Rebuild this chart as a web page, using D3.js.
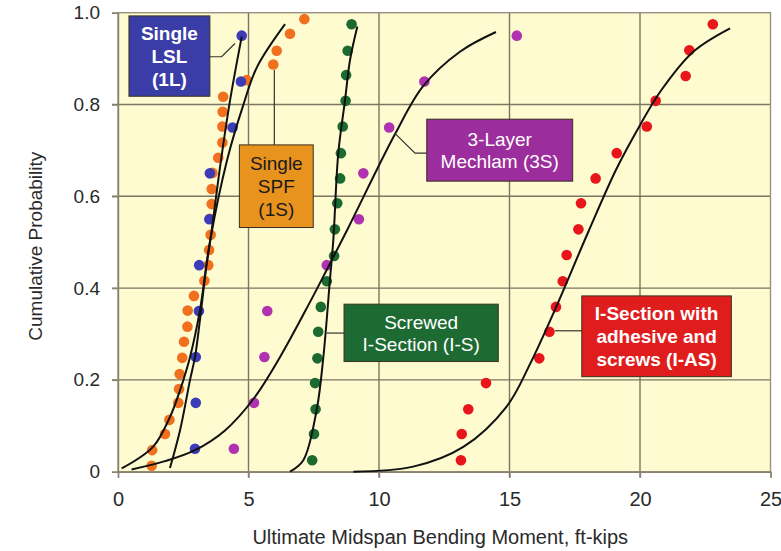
<!DOCTYPE html>
<html>
<head>
<meta charset="utf-8">
<script src="https://cdn.jsdelivr.net/npm/d3@7"></script>
<style>
  html, body { margin: 0; padding: 0; background: #ffffff; }
  svg { display: block; font-family: "Liberation Sans", Arial, sans-serif; }
</style>
</head>
<body>
<svg id="chart" width="781" height="551"></svg>
<script>
// ---------- DATA ----------
const xTicks = [0, 5, 10, 15, 20, 25];
const xTickLabels = ["0", "5", "10", "15", "20", "25"];
const yTicks = [0, 0.2, 0.4, 0.6, 0.8, 1.0];
const yTickLabels = ["0", "0.2", "0.4", "0.6", "0.8", "1.0"];
const xTitle = "Ultimate Midspan Bending Moment, ft-kips";
const yTitle = "Cumulative Probability";

// Single SPF (1S) - orange
const s1S_x = [1.29, 1.31, 1.80, 1.97, 2.31, 2.34, 2.36, 2.46, 2.53, 2.66, 2.67, 2.91, 3.31, 3.46, 3.49,
               3.55, 3.52, 3.59, 3.59, 3.62, 3.84, 4.00, 4.00, 4.01, 4.03, 4.93, 5.95, 6.08, 6.59, 7.14];
const s1S_p = [0.013, 0.047, 0.082, 0.113, 0.150, 0.180, 0.213, 0.248, 0.283, 0.316, 0.351, 0.383, 0.416, 0.450, 0.483,
               0.516, 0.551, 0.583, 0.616, 0.651, 0.684, 0.717, 0.752, 0.784, 0.817, 0.853, 0.887, 0.917, 0.954, 0.986];
const s1S_curveX = [0.14, 1.34, 1.99, 2.38, 2.76, 3.14, 3.52, 4.18, 4.79, 5.33, 6.40];
const s1S_curveP = [0.007, 0.054, 0.119, 0.178, 0.250, 0.352, 0.500, 0.679, 0.797, 0.882, 0.975];

// Single LSL (1L) - blue
const s1L_x = [2.95, 2.98, 2.98, 3.10, 3.11, 3.50, 3.52, 4.39, 4.71, 4.74];
const s1L_p = [0.05, 0.15, 0.25, 0.35, 0.45, 0.55, 0.65, 0.75, 0.85, 0.95];
const s1L_curveX = [1.99, 2.38, 2.76, 2.95, 3.14, 3.37, 3.59, 3.91, 4.29, 4.74];
const s1L_curveP = [0.008, 0.091, 0.200, 0.250, 0.331, 0.440, 0.526, 0.664, 0.808, 0.948];

// 3-Layer Mechlam (3S) - purple
const s3S_x = [4.44, 5.21, 5.61, 5.72, 8.00, 9.23, 9.40, 10.39, 11.74, 15.28];
const s3S_p = [0.05, 0.15, 0.25, 0.35, 0.45, 0.55, 0.65, 0.75, 0.85, 0.95];
const s3S_curveX = [0.52, 1.80, 2.95, 4.10, 5.21, 6.21, 7.36, 8.00, 8.81, 10.61, 11.69, 13.10, 14.48];
const s3S_curveP = [0.005, 0.023, 0.047, 0.090, 0.160, 0.250, 0.370, 0.440, 0.530, 0.735, 0.840, 0.915, 0.958];

// Screwed I-Section (I-S) - green
const sIS_x = [7.44, 7.51, 7.57, 7.55, 7.64, 7.67, 7.77, 8.00, 8.28, 8.31, 8.40, 8.51, 8.54, 8.61, 8.72, 8.74, 8.80, 8.95];
const sIS_p = [0.025, 0.082, 0.136, 0.193, 0.247, 0.305, 0.359, 0.415, 0.470, 0.528, 0.585, 0.639, 0.694, 0.752, 0.808, 0.864, 0.917, 0.975];
const sIS_curveX = [6.59, 7.10, 7.61, 7.87, 8.12, 8.25, 8.44, 8.70, 8.89, 9.17];
const sIS_curveP = [0.000, 0.025, 0.134, 0.251, 0.418, 0.505, 0.694, 0.810, 0.897, 0.970];

// I-Section with adhesive and screws (I-AS) - red
const sIAS_x = [13.14, 13.17, 13.42, 14.10, 16.14, 16.53, 16.78, 17.04, 17.19, 17.64, 17.74, 18.30, 19.11, 20.26, 20.60, 21.75, 21.89, 22.79];
const sIAS_p = [0.025, 0.082, 0.136, 0.193, 0.247, 0.305, 0.359, 0.415, 0.472, 0.528, 0.585, 0.639, 0.694, 0.752, 0.808, 0.862, 0.918, 0.975];
const sIAS_curveX = [9.02, 11.31, 13.23, 14.89, 15.79, 16.68, 18.00, 19.10, 20.00, 20.80, 22.04, 23.45];
const sIAS_curveP = [0.000, 0.011, 0.054, 0.142, 0.235, 0.345, 0.520, 0.660, 0.755, 0.830, 0.915, 0.966];

// label boxes (data units): [x0, x1, pTop, pBottom]
const labelNames = ["1L", "1S", "3S", "IS", "IAS"];
const labelLines = [["Single", "LSL", "(1L)"], ["Single", "SPF", "(1S)"], ["3-Layer", "Mechlam (3S)"],
                    ["Screwed", "I-Section (I-S)"], ["I-Section with", "adhesive and", "screws (I-AS)"]];
const labelBoxes = [[0.42, 3.52, 0.993, 0.818], [4.65, 7.48, 0.712, 0.532], [11.83, 17.42, 0.768, 0.633],
                    [8.66, 14.57, 0.365, 0.240], [17.77, 23.50, 0.383, 0.207]];
const connectorsX = [[3.52, 3.97, 4.48], [5.99, 5.99], [11.83, 11.38, 10.61], [8.66, 8.00], [17.77, 16.74]];
const connectorsP = [[0.904, 0.904, 0.933], [0.712, 0.875], [0.694, 0.694, 0.737], [0.302, 0.302], [0.307, 0.307]];

// ---------- STYLE ----------
const dotColors = { "1S": "#f0701e", "1L": "#3c3cb8", "3S": "#b032b0", "IS": "#1b6a2f", "IAS": "#e8161a" };
const boxColors = { "1L": "#3b3da6", "1S": "#e8931e", "3S": "#9c2d9c", "IS": "#1e6a33", "IAS": "#e01d1d" };
const textColors = { "1L": "#ffffff", "1S": "#1a1a1a", "3S": "#ffffff", "IS": "#ffffff", "IAS": "#ffffff" };
const textWeights = { "1L": "bold", "1S": "normal", "3S": "normal", "IS": "normal", "IAS": "bold" };

const svg = d3.select("#chart");
const pLeft = 118, pRight = 770.5, pTop = 12.7, pBottom = 471.7;

const x = d3.scaleLinear().domain([0, 25]).range([pLeft, pRight]);
const y = d3.scaleLinear().domain([0, 1]).range([pBottom, pTop]);

// plot background
svg.append("rect").attr("x", pLeft).attr("y", pTop).attr("width", pRight - pLeft).attr("height", pBottom - pTop)
  .attr("fill", "#fdfbcf");

// grid lines
const grid = svg.append("g");
grid.selectAll("line.vx").data(xTicks.slice(1, -1)).enter().append("line")
  .attr("x1", d => x(d)).attr("x2", d => x(d)).attr("y1", pTop).attr("y2", pBottom + 6)
  .attr("stroke", "#7d7563").attr("stroke-width", 1.4);
grid.selectAll("line.hy").data(yTicks.slice(1, -1)).enter().append("line")
  .attr("x1", pLeft - 6).attr("x2", pRight).attr("y1", d => y(d)).attr("y2", d => y(d))
  .attr("stroke", "#7d7563").attr("stroke-width", 1.4);

// frame
svg.append("rect").attr("x", pLeft).attr("y", pTop).attr("width", pRight - pLeft).attr("height", pBottom - pTop)
  .attr("fill", "none").attr("stroke", "#9a927f").attr("stroke-width", 1.4);

// axes (tick marks + labels)
const xAxis = d3.axisBottom(x).tickValues(xTicks).tickFormat((d, i) => xTickLabels[i]).tickSize(6).tickPadding(14);
const gx = svg.append("g").attr("transform", `translate(0,${pBottom})`).call(xAxis);
gx.select(".domain").attr("stroke", "#8a8270").attr("stroke-width", 1.4);
gx.selectAll(".tick line").attr("stroke", "#8a8270").attr("stroke-width", 1.4);
gx.selectAll(".tick text").attr("font-size", 20).attr("fill", "#2a2a2a")
  .attr("font-family", "'Liberation Sans', Arial, sans-serif");

const yAxis = d3.axisLeft(y).tickValues(yTicks).tickFormat((d, i) => yTickLabels[i]).tickSize(6).tickPadding(12);
const gy = svg.append("g").attr("transform", `translate(${pLeft},0)`).call(yAxis);
gy.select(".domain").attr("stroke", "#8a8270").attr("stroke-width", 1.4);
gy.selectAll(".tick line").attr("stroke", "#8a8270").attr("stroke-width", 1.4);
gy.selectAll(".tick text").attr("font-size", 19).attr("fill", "#2a2a2a")
  .attr("font-family", "'Liberation Sans', Arial, sans-serif");

// axis titles
svg.append("text").attr("x", (pLeft + pRight) / 2 - 4).attr("y", 544).attr("text-anchor", "middle")
  .attr("font-size", 20).attr("fill", "#2a2a2a").text(xTitle);
svg.append("text").attr("transform", `translate(42,${(pTop + pBottom) / 2 + 4}) rotate(-90)`)
  .attr("text-anchor", "middle").attr("font-size", 19).attr("fill", "#2a2a2a").text(yTitle);

// series
const series = [
  { key: "3S", xs: s3S_x, ps: s3S_p, cx: s3S_curveX, cp: s3S_curveP },
  { key: "1S", xs: s1S_x, ps: s1S_p, cx: s1S_curveX, cp: s1S_curveP },
  { key: "1L", xs: s1L_x, ps: s1L_p, cx: s1L_curveX, cp: s1L_curveP },
  { key: "IS", xs: sIS_x, ps: sIS_p, cx: sIS_curveX, cp: sIS_curveP },
  { key: "IAS", xs: sIAS_x, ps: sIAS_p, cx: sIAS_curveX, cp: sIAS_curveP }
];

const line = d3.line().x(d => x(d[0])).y(d => y(d[1])).curve(d3.curveCatmullRom.alpha(0.5));

series.forEach(s => {
  const pts = s.xs.map((v, i) => [v, s.ps[i]]);
  svg.append("g").selectAll("circle").data(pts).enter().append("circle")
    .attr("cx", d => x(d[0])).attr("cy", d => y(d[1])).attr("r", 5.3)
    .attr("fill", dotColors[s.key]);
});
series.forEach(s => {
  const cpts = s.cx.map((v, i) => [v, s.cp[i]]);
  svg.append("path").datum(cpts).attr("d", line).attr("fill", "none")
    .attr("stroke", "#111").attr("stroke-width", 2);
});

// connectors
connectorsX.forEach((cx, i) => {
  const pts = cx.map((v, j) => [v, connectorsP[i][j]]);
  svg.append("path").datum(pts).attr("d", d3.line().x(d => x(d[0])).y(d => y(d[1])))
    .attr("fill", "none").attr("stroke", "#333").attr("stroke-width", 1.2);
});

// label boxes
labelNames.forEach((k, i) => {
  const b = labelBoxes[i];
  const x0 = x(b[0]), x1 = x(b[1]), y0 = y(b[2]), y1 = y(b[3]);
  svg.append("rect").attr("x", x0).attr("y", y0).attr("width", x1 - x0).attr("height", y1 - y0)
    .attr("fill", boxColors[k]).attr("stroke", "#3a3020").attr("stroke-width", 1);
  const lines = labelLines[i];
  const lh = lines.length === 3 ? 23 : 22;
  const cy = (y0 + y1) / 2;
  lines.forEach((t, j) => {
    svg.append("text").attr("x", (x0 + x1) / 2).attr("y", cy + (j - (lines.length - 1) / 2) * lh)
      .attr("dy", "0.36em").attr("text-anchor", "middle")
      .attr("font-size", 19).attr("font-weight", textWeights[k]).attr("fill", textColors[k]).text(t);
  });
});
</script>
</body>
</html>
